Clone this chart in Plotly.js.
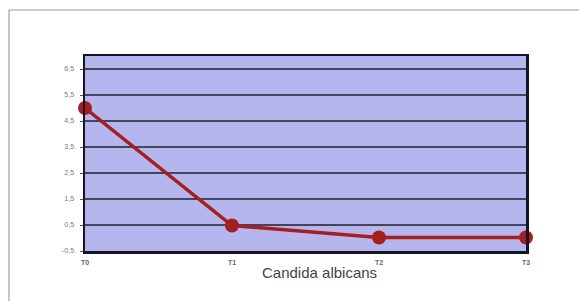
<!DOCTYPE html>
<html>
<head>
<meta charset="utf-8">
<script src="https://cdn.plot.ly/plotly-3.0.1.min.js"></script>
<style>html,body{margin:0;padding:0;background:#fff;}#chart{width:579px;height:301px;}</style>
</head>
<body>
<div id="chart"></div>
<script>
const categories = ["T0", "T1", "T2", "T3"];
const values = [5.0, 0.48, 0.02, 0.02];
const yTickVals = [-0.5, 0.5, 1.5, 2.5, 3.5, 4.5, 5.5, 6.5];
const yTickText = ["-0,5", "0,5", "1,5", "2,5", "3,5", "4,5", "5,5", "6,5"];
const axisTitle = "Candida albicans";

const L = 85, R = 526, T = 56, B = 251, W = 579, H = 301;
const pw = R - L, ph = B - T;
const px = x => (x - L) / pw;
const py = y => (B - y) / ph;

const trace = {
  x: categories,
  y: values,
  type: "scatter",
  mode: "lines+markers",
  line: {color: "#a3201f", width: 3.5},
  marker: {color: "#a3201f", size: 14},
  cliponaxis: false,
  hoverinfo: "none"
};

const layout = {
  width: W, height: H,
  margin: {l: L, r: W - R, t: T, b: H - B, pad: 0},
  paper_bgcolor: "#ffffff",
  plot_bgcolor: "#b6b6ef",
  showlegend: false,
  xaxis: {
    type: "category",
    range: [0, 3],
    showgrid: false,
    zeroline: false,
    showline: true, mirror: true, linecolor: "#15152a", linewidth: 2.5,
    ticks: "",
    tickfont: {family: "Liberation Sans, Arial, sans-serif", size: 7, color: "#666", weight: "bold"},
    ticklabelstandoff: 3
  },
  yaxis: {
    range: [-0.5, 7.0],
    tickvals: yTickVals,
    ticktext: yTickText,
    showgrid: true, gridcolor: "#44445a", gridwidth: 1.1,
    zeroline: false,
    showline: true, mirror: true, linecolor: "#15152a", linewidth: 2.5,
    ticks: "outside", ticklen: 3, tickcolor: "#555", tickwidth: 1,
    tickfont: {family: "Liberation Sans, Arial, sans-serif", size: 7, color: "#777"},
    ticklabelstandoff: 4
  },
  shapes: [
    {type: "line", xref: "paper", yref: "paper", x0: px(9), x1: px(9), y0: py(10), y1: py(301),
     line: {color: "#a0a0a8", width: 1.2}},
    {type: "line", xref: "paper", yref: "paper", x0: px(9), x1: px(579), y0: py(10), y1: py(10),
     line: {color: "#a0a0a8", width: 1.2}}
  ],
  annotations: [
    {text: axisTitle, xref: "paper", yref: "paper", x: px(319), y: py(272),
     xanchor: "center", yanchor: "middle", showarrow: false,
     font: {family: "Liberation Sans, Arial, sans-serif", size: 15, color: "#444"}}
  ]
};

Plotly.newPlot("chart", [trace], layout, {displayModeBar: false, staticPlot: true});
</script>
</body>
</html>
